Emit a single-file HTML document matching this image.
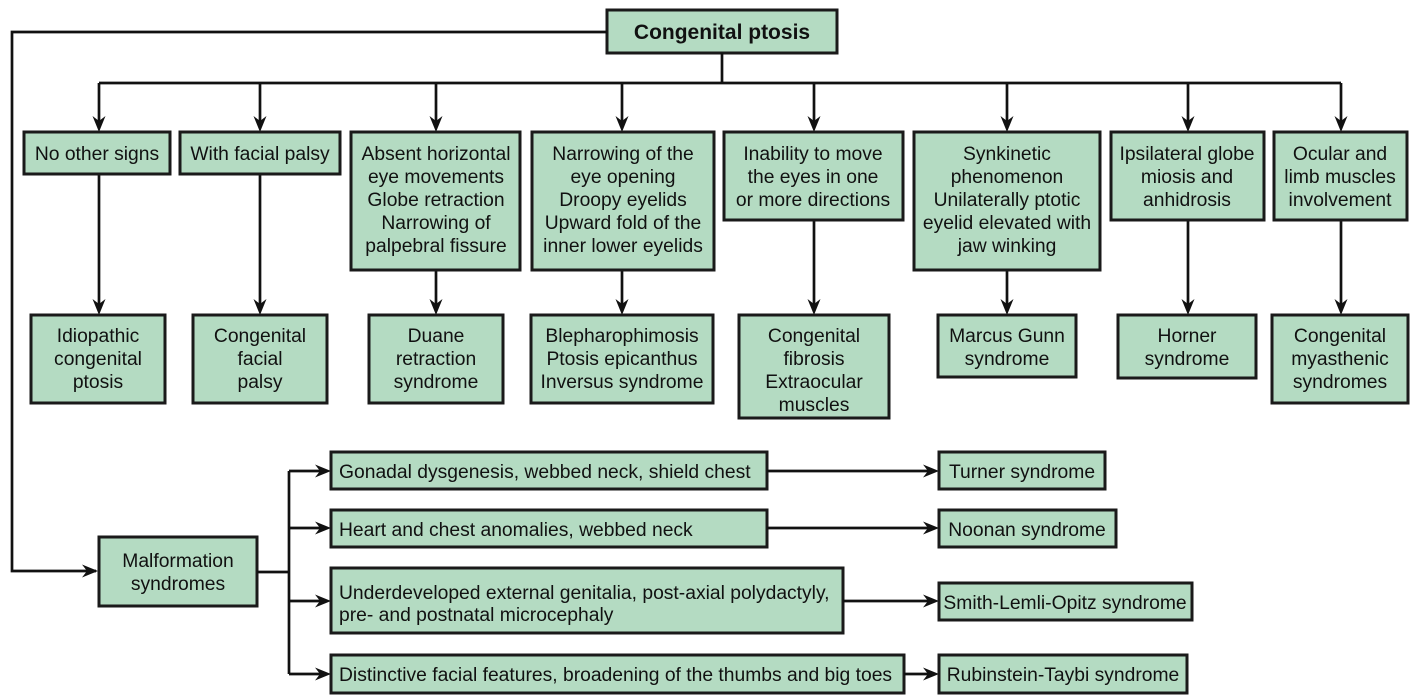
<!DOCTYPE html>
<html><head><meta charset="utf-8"><style>
html,body{margin:0;padding:0;background:#fff;}
svg{display:block;}
text{font-family:"Liberation Sans",Arial,sans-serif;font-size:19.3px;fill:#111;text-anchor:middle;}
.l{text-anchor:start;}
rect{fill:#b4dbc2;stroke:#1a1a1a;stroke-width:3;}
line,polyline{stroke:#111;stroke-width:2.7;fill:none;}
.ah{fill:#111;stroke:none;}
</style></head><body>
<svg width="1423" height="697" viewBox="0 0 1423 697" xmlns="http://www.w3.org/2000/svg">
<defs>
<polygon id="ad" class="ah" points="-6.5,-16 0,-11 6.5,-16 0,0"/>
<polygon id="ar" class="ah" points="-16,-6.5 -11,0 -16,6.5 0,0"/>
</defs>
<!-- top -->
<rect x="607" y="10" width="230" height="43"/>
<text x="722" y="39" style="font-weight:bold;font-size:21px">Congenital ptosis</text>
<polyline points="607,32 12,32 12,571 96,571"/>
<use href="#ar" x="98" y="571"/>
<line x1="722" y1="53" x2="722" y2="83"/>
<line x1="99" y1="83" x2="1341" y2="83"/>
<!-- row1 down arrows -->
<g>
<line x1="99" y1="83" x2="99" y2="128"/><use href="#ad" x="99" y="132"/>
<line x1="260" y1="83" x2="260" y2="128"/><use href="#ad" x="260" y="132"/>
<line x1="436" y1="83" x2="436" y2="128"/><use href="#ad" x="436" y="132"/>
<line x1="622" y1="83" x2="622" y2="128"/><use href="#ad" x="622" y="132"/>
<line x1="814" y1="83" x2="814" y2="128"/><use href="#ad" x="814" y="132"/>
<line x1="1007" y1="83" x2="1007" y2="128"/><use href="#ad" x="1007" y="132"/>
<line x1="1188" y1="83" x2="1188" y2="128"/><use href="#ad" x="1188" y="132"/>
<line x1="1341" y1="83" x2="1341" y2="128"/><use href="#ad" x="1341" y="132"/>
</g>
<!-- row1 to row2 -->
<g>
<line x1="99" y1="174" x2="99" y2="311"/><use href="#ad" x="99" y="315"/>
<line x1="260" y1="174" x2="260" y2="311"/><use href="#ad" x="260" y="315"/>
<line x1="436" y1="270" x2="436" y2="311"/><use href="#ad" x="436" y="315"/>
<line x1="622" y1="270" x2="622" y2="311"/><use href="#ad" x="622" y="315"/>
<line x1="814" y1="220" x2="814" y2="311"/><use href="#ad" x="814" y="315"/>
<line x1="1007" y1="270" x2="1007" y2="311"/><use href="#ad" x="1007" y="315"/>
<line x1="1188" y1="220" x2="1188" y2="311"/><use href="#ad" x="1188" y="315"/>
<line x1="1341" y1="220" x2="1341" y2="311"/><use href="#ad" x="1341" y="315"/>
</g>
<!-- row1 boxes -->
<rect x="24" y="132" width="146" height="42"/>
<text x="97" y="160">No other signs</text>
<rect x="180" y="132" width="160" height="42"/>
<text x="260" y="160">With facial palsy</text>
<rect x="351" y="132" width="169" height="138"/>
<text x="436" y="160">Absent horizontal</text>
<text x="436" y="183">eye movements</text>
<text x="436" y="206">Globe retraction</text>
<text x="436" y="229">Narrowing of</text>
<text x="436" y="252">palpebral fissure</text>
<rect x="532" y="132" width="182" height="138"/>
<text x="623" y="160">Narrowing of the</text>
<text x="623" y="183">eye opening</text>
<text x="623" y="206">Droopy eyelids</text>
<text x="623" y="229">Upward fold of the</text>
<text x="623" y="252">inner lower eyelids</text>
<rect x="724" y="132" width="179" height="88"/>
<text x="813" y="160">Inability to move</text>
<text x="813" y="183">the eyes in one</text>
<text x="813" y="206">or more directions</text>
<rect x="914" y="132" width="186" height="138"/>
<text x="1007" y="160">Synkinetic</text>
<text x="1007" y="183">phenomenon</text>
<text x="1007" y="206">Unilaterally ptotic</text>
<text x="1007" y="229">eyelid elevated with</text>
<text x="1007" y="252">jaw winking</text>
<rect x="1111" y="132" width="153" height="88"/>
<text x="1187" y="160">Ipsilateral globe</text>
<text x="1187" y="183">miosis and</text>
<text x="1187" y="206">anhidrosis</text>
<rect x="1274" y="132" width="133" height="88"/>
<text x="1340" y="160">Ocular and</text>
<text x="1340" y="183">limb muscles</text>
<text x="1340" y="206">involvement</text>
<!-- row2 boxes -->
<rect x="31" y="315" width="134" height="88"/>
<text x="98" y="342">Idiopathic</text>
<text x="98" y="365">congenital</text>
<text x="98" y="388">ptosis</text>
<rect x="193" y="315" width="134" height="88"/>
<text x="260" y="342">Congenital</text>
<text x="260" y="365">facial</text>
<text x="260" y="388">palsy</text>
<rect x="369" y="315" width="134" height="88"/>
<text x="436" y="342">Duane</text>
<text x="436" y="365">retraction</text>
<text x="436" y="388">syndrome</text>
<rect x="531" y="315" width="182" height="88"/>
<text x="622" y="342">Blepharophimosis</text>
<text x="622" y="365">Ptosis epicanthus</text>
<text x="622" y="388">Inversus syndrome</text>
<rect x="739" y="315" width="150" height="103"/>
<text x="814" y="342">Congenital</text>
<text x="814" y="365">fibrosis</text>
<text x="814" y="388">Extraocular</text>
<text x="814" y="411">muscles</text>
<rect x="938" y="315" width="138" height="62"/>
<text x="1007" y="342">Marcus Gunn</text>
<text x="1007" y="365">syndrome</text>
<rect x="1118" y="315" width="138" height="63"/>
<text x="1187" y="342">Horner</text>
<text x="1187" y="365">syndrome</text>
<rect x="1272" y="315" width="136" height="88"/>
<text x="1340" y="342">Congenital</text>
<text x="1340" y="365">myasthenic</text>
<text x="1340" y="388">syndromes</text>
<!-- bottom -->
<rect x="99" y="537" width="158" height="69"/>
<text x="178" y="567">Malformation</text>
<text x="178" y="590">syndromes</text>
<line x1="257" y1="572" x2="289" y2="572"/>
<line x1="289" y1="471" x2="289" y2="674"/>
<line x1="289" y1="471" x2="320" y2="471"/><use href="#ar" x="331" y="471"/>
<line x1="289" y1="528" x2="320" y2="528"/><use href="#ar" x="331" y="528"/>
<line x1="289" y1="601" x2="320" y2="601"/><use href="#ar" x="331" y="601"/>
<line x1="289" y1="674" x2="320" y2="674"/><use href="#ar" x="331" y="674"/>
<rect x="331" y="452" width="436" height="37"/>
<text class="l" x="339" y="478">Gonadal dysgenesis, webbed neck, shield chest</text>
<rect x="331" y="510" width="436" height="37"/>
<text class="l" x="339" y="536">Heart and chest anomalies, webbed neck</text>
<rect x="331" y="568" width="512" height="65"/>
<text class="l" x="339" y="599">Underdeveloped external genitalia, post-axial polydactyly,</text>
<text class="l" x="339" y="621">pre- and postnatal microcephaly</text>
<rect x="331" y="655" width="573" height="38"/>
<text class="l" x="339" y="681">Distinctive facial features, broadening of the thumbs and big toes</text>
<line x1="767" y1="471" x2="930" y2="471"/><use href="#ar" x="939" y="471"/>
<line x1="767" y1="528" x2="930" y2="528"/><use href="#ar" x="939" y="528"/>
<line x1="843" y1="601" x2="930" y2="601"/><use href="#ar" x="939" y="601"/>
<line x1="904" y1="674" x2="930" y2="674"/><use href="#ar" x="939" y="674"/>
<rect x="939" y="452" width="166" height="37"/>
<text x="1022" y="478">Turner syndrome</text>
<rect x="939" y="510" width="177" height="37"/>
<text x="1027" y="536">Noonan syndrome</text>
<rect x="939" y="583" width="253" height="37"/>
<text x="1065" y="609">Smith-Lemli-Opitz syndrome</text>
<rect x="939" y="655" width="248" height="38"/>
<text x="1063" y="681">Rubinstein-Taybi syndrome</text>
</svg>
</body></html>
